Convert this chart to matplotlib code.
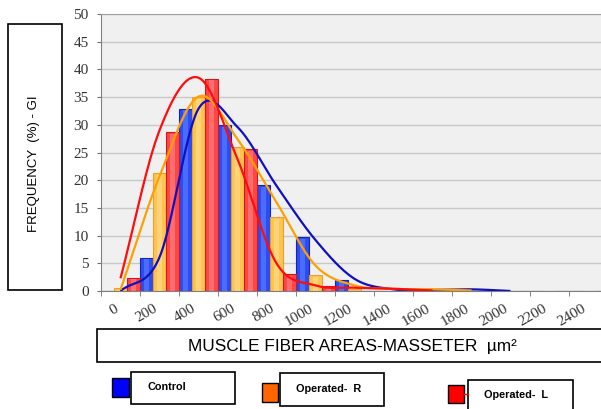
import matplotlib.pyplot as plt
from matplotlib.patches import Rectangle
from matplotlib.lines import Line2D
import numpy as np

# fiber area classes (um^2)
areas = ['0', '200', '400', '600', '800', '1000', '1200', '1400',
         '1600', '1800', '2000', '2200', '2400']

# frequency (%) per class
control    = [0.0, 6.0, 32.9, 29.9, 19.1, 9.7, 2.0, 0, 0, 0, 0, 0, 0]
operated_r = [0.5, 21.3, 35.0, 26.0, 13.3, 2.8, 0.3, 0, 0, 0, 0, 0, 0]
operated_l = [2.4, 28.7, 38.3, 25.6, 3.0, 0.9, 0.0, 0, 0, 0, 0, 0, 0]

# smoothed trend lines, read at the class centres
control_fit    = [0.0, 6.1, 32.9, 29.6, 19.0, 9.2, 2.2, 0.3, 0.2, 0.3, 0.0]
operated_r_fit = [0.2, 20.7, 35.1, 27.4, 16.0, 4.6, 1.0, 0.4, 0.3, 0.1]
operated_l_fit = [2.3, 29.0, 38.5, 23.8, 5.0, 1.0, 0.6, 0.4, 0.1]

W, H = 601, 409


def smooth(vals, n=30):
    # catmull-rom style smoothing like the spreadsheet "smoothed line"
    y = np.asarray(vals, float)
    m = np.gradient(y)
    xs, ys = [], []
    t = np.linspace(0, 1, n)
    h00 = 2*t**3 - 3*t**2 + 1
    h10 = t**3 - 2*t**2 + t
    h01 = -2*t**3 + 3*t**2
    h11 = t**3 - t**2
    for i in range(len(y) - 1):
        xs.append(i + t)
        ys.append(h00*y[i] + h10*m[i] + h01*y[i+1] + h11*m[i+1])
    return np.concatenate(xs), np.concatenate(ys)


def fx(px):
    return px / W


def fy(py):
    return 1 - py / H


fig = plt.figure(figsize=(W/100, H/100), dpi=100)
ax = fig.add_axes([fx(101), fy(291), 507/W, 277/H])
ax.set_facecolor('#f0f0f0')

x = np.arange(len(areas))
bw = 1/3
groups = [
    (control, -bw, '#2d4cf2', '#1424b4', '#4a6dff'),
    (operated_r, 0, '#ffc450', '#e6a030', '#ffd37a'),
    (operated_l, bw, '#ff4646', '#cc1a1a', '#ff6e6e'),
]
for vals, off, face, edge, hi in groups:
    ax.bar(x + off, vals, width=bw, color=face, edgecolor=edge, linewidth=0.8, zorder=2)
    ax.bar(x + off, np.maximum(np.array(vals) - 0.3, 0), width=bw/3,
           color=hi, linewidth=0, zorder=2)

for vals, col in [(control_fit, '#1010c0'), (operated_r_fit, '#ffa000'), (operated_l_fit, '#ff0d0d')]:
    sx, sy = smooth(vals)
    ax.plot(sx, sy, color=col, lw=1.6, zorder=3, solid_capstyle='butt')

ax.set_xlim(-0.5, 12.5)
ax.set_ylim(0, 50)
ax.set_yticks(np.arange(0, 51, 5))
ax.yaxis.grid(True, color='#c8c8c8', lw=1)
ax.set_axisbelow(True)

ax.set_xticks(x)
ax.set_xticklabels(areas, family='Liberation Serif', fontsize=11, color='#333333')
plt.setp(ax.get_xticklabels(), rotation=30, ha='right')
ax.set_xticks(np.arange(-0.5, 13, 1), minor=True)
ax.tick_params(axis='x', which='major', length=0, pad=8)
ax.tick_params(axis='x', which='minor', length=3.6, color='#707070')
ax.tick_params(axis='y', length=3, color='#707070', pad=6)
for lab in ax.get_yticklabels():
    lab.set_family('Liberation Serif')
    lab.set_fontsize(11)
    lab.set_color('#333333')

ax.spines['right'].set_visible(False)
ax.spines['top'].set_color('#a0a0a0')
ax.spines['left'].set_color('#808080')
ax.spines['bottom'].set_color('#808080')


def box(x0, y0, x1, y1, face='white', lw=1.2):
    r = Rectangle((fx(x0), fy(y1)), fx(x1) - fx(x0), fy(y0) - fy(y1),
                  transform=fig.transFigure, facecolor=face, edgecolor='black', lw=lw)
    fig.add_artist(r)


# y label box
box(7.5, 23.5, 61.5, 290)
fig.text(fx(34.5), fy(164), 'FREQUENCY  (%) - GI', rotation=90, ha='center', va='center',
         family='Liberation Sans', fontsize=9.5)

# x label box
box(97, 329, 605, 362)
fig.text(fx(352), fy(346), 'MUSCLE FIBER AREAS-MASSETER  µm²', ha='center', va='center',
         family='Liberation Sans', fontsize=12.4)

# legend
legend_items = [
    ('Control', '#0000ff', (112, 378, 129, 397), (131, 372, 235, 404), 147, 387.5),
    ('Operated-  R', '#ff6600', (262, 383, 278, 402), (280, 373, 384, 405.5), 296, 389.5),
    ('Operated-  L', '#ff0000', (448, 385, 464, 403), (468, 379.5, 573, 412), 484.5, 395.5),
]
for lab, col, sw, bx, tx, ty in legend_items:
    box(*sw, face=col, lw=1.0)
    box(*bx)
    fig.text(fx(tx), fy(ty), lab, ha='left', va='center', family='Liberation Sans',
             fontsize=7.8, fontweight='bold')
fig.add_artist(Line2D([fx(464), fx(468)], [fy(394), fy(394)], color='#ff0000', lw=1,
                      transform=fig.transFigure))

fig.savefig('out.png', dpi=100)
